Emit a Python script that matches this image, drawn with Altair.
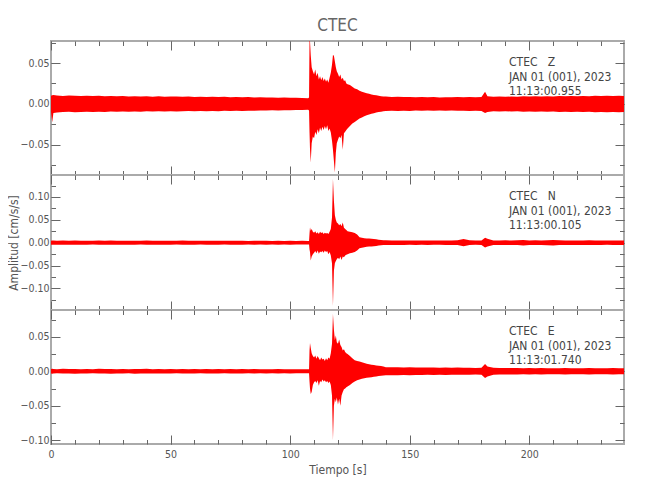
import altair as alt
import pandas as pd

FONT = "DejaVu Sans Condensed, DejaVu Sans, sans-serif"

# ---- sample times (s) ----
pre_t = [0.0, 0.5, 1.0, 2.5, 5.0, 7.5, 10.0, 12.5, 15.0, 17.5,
         20.0, 22.5, 25.0, 27.5, 30.0, 32.5, 35.0, 37.5, 40.0, 42.5,
         45.0, 47.5, 50.0, 52.5, 55.0, 57.5, 60.0, 62.5, 65.0, 67.5,
         70.0, 72.5, 75.0, 77.5, 80.0, 82.5, 85.0, 87.5, 90.0, 92.5,
         95.0, 97.5, 100.0, 102.5, 105.0, 107.5]
evt_t = [107.9, 108.1, 108.3, 108.6, 109.0, 109.5, 110.0, 110.5, 111.0, 111.5,
         112.0, 112.5, 113.0, 113.5, 114.0, 114.5, 115.0, 115.5, 116.0, 116.5,
         117.0, 117.5, 117.9, 118.3, 118.7, 119.1, 119.5, 120.0, 120.5, 121.0,
         121.5, 122.0, 122.5, 123.0, 123.5, 124.0, 125.0, 126.0, 127.0, 128.0,
         129.0, 130.0, 131.0, 132.0, 133.0, 134.0, 135.0, 136.0, 137.0, 138.0,
         139.0]
post_t = [140.0, 142.5, 145.0, 147.5, 150.0, 152.5, 155.0, 157.5, 160.0, 162.5,
          165.0, 167.5, 170.0, 172.5, 175.0, 177.5, 180.0, 181.5, 182.5, 185.0,
          187.5, 190.0, 192.5, 195.0, 197.5, 200.0, 202.5, 205.0, 207.5, 210.0,
          212.5, 215.0, 217.5, 220.0, 222.5, 225.0, 227.5, 230.0, 232.5, 235.0,
          237.5, 239.6]

# ---- Z component envelope (cm/s/s) ----
z_pre_up = [.0100, .0105, .0110, .0102, .0098, .0104, .0100, .0096, .0101, .0097,
            .0099, .0094, .0098, .0093, .0097, .0092, .0095, .0090, .0094, .0089,
            .0093, .0088, .0092, .0090, .0087, .0091, .0086, .0089, .0085, .0088,
            .0084, .0087, .0083, .0086, .0082, .0084, .0080, .0082, .0078, .0080,
            .0076, .0078, .0074, .0076, .0072, .0070]
z_pre_lo = [-.0100, -.0225, -.0110, -.0104, -.0100, -.0097, -.0103, -.0098, -.0095, -.0100,
            -.0096, -.0099, -.0094, -.0097, -.0093, -.0096, -.0092, -.0095, -.0091, -.0094,
            -.0090, -.0093, -.0089, -.0092, -.0090, -.0088, -.0091, -.0087, -.0090, -.0086,
            -.0089, -.0085, -.0087, -.0084, -.0086, -.0083, -.0084, -.0081, -.0082, -.0079,
            -.0080, -.0077, -.0078, -.0075, -.0074, -.0072]
z_evt_up = [.0080, .0770, .0770, .0600, .0450, .0400, .0360, .0420, .0340, .0380,
            .0300, .0340, .0290, .0330, .0280, .0310, .0270, .0300, .0260, .0320,
            .0380, .0480, .0600, .0590, .0520, .0450, .0400, .0370, .0330, .0360,
            .0300, .0320, .0280, .0290, .0250, .0240, .0230, .0210, .0190, .0180,
            .0160, .0150, .0140, .0130, .0125, .0115, .0110, .0105, .0100, .0095,
            .0092]
z_evt_lo = [-.0080, -.0350, -.0550, -.0720, -.0480, -.0400, -.0420, -.0340, -.0380, -.0310,
            -.0360, -.0290, -.0330, -.0280, -.0320, -.0270, -.0310, -.0260, -.0330, -.0300,
            -.0350, -.0450, -.0560, -.0700, -.0840, -.0600, -.0480, -.0440, -.0400, -.0420,
            -.0380, -.0560, -.0360, -.0340, -.0320, -.0300, -.0270, -.0240, -.0220, -.0200,
            -.0180, -.0165, -.0150, -.0140, -.0130, -.0120, -.0115, -.0105, -.0100, -.0095,
            -.0090]
z_post_up = [.0090, .0086, .0088, .0084, .0086, .0082, .0085, .0081, .0084, .0080,
             .0083, .0081, .0084, .0082, .0085, .0083, .0086, .0150, .0095, .0088,
             .0091, .0087, .0092, .0089, .0093, .0090, .0094, .0091, .0095, .0092,
             .0096, .0093, .0097, .0094, .0098, .0095, .0099, .0096, .0100, .0097,
             .0100, .0098]
z_post_lo = [-.0088, -.0085, -.0087, -.0083, -.0086, -.0082, -.0084, -.0081, -.0083, -.0080,
             -.0084, -.0082, -.0085, -.0083, -.0086, -.0084, -.0087, -.0110, -.0100, -.0090,
             -.0093, -.0089, -.0094, -.0091, -.0095, -.0092, -.0096, -.0093, -.0097, -.0094,
             -.0098, -.0095, -.0099, -.0096, -.0100, -.0097, -.0101, -.0098, -.0102, -.0099,
             -.0102, -.0100]

# ---- N component envelope ----
n_pre_up = [.0045, .0048, .0046, .0042, .0047, .0043, .0046, .0041, .0045, .0042,
            .0046, .0043, .0047, .0042, .0045, .0041, .0044, .0042, .0046, .0043,
            .0045, .0041, .0044, .0042, .0046, .0043, .0045, .0042, .0044, .0041,
            .0045, .0042, .0044, .0041, .0043, .0040, .0044, .0041, .0043, .0040,
            .0042, .0040, .0043, .0039, .0041, .0040]
n_pre_lo = [-.0044, -.0046, -.0045, -.0043, -.0046, -.0042, -.0045, -.0043, -.0046, -.0041,
            -.0045, -.0042, -.0046, -.0043, -.0044, -.0042, -.0045, -.0041, -.0044, -.0042,
            -.0046, -.0042, -.0045, -.0041, -.0044, -.0042, -.0045, -.0041, -.0043, -.0042,
            -.0044, -.0041, -.0043, -.0042, -.0044, -.0040, -.0043, -.0041, -.0042, -.0040,
            -.0043, -.0039, -.0042, -.0040, -.0041, -.0040]
n_evt_up = [.0040, .0200, .0340, .0260, .0300, .0240, .0220, .0250, .0200, .0230,
            .0190, .0240, .0210, .0230, .0190, .0220, .0200, .0210, .0190, .0240,
            .0300, .0550, .1390, .0920, .0600, .0500, .0440, .0420, .0380, .0410,
            .0360, .0440, .0330, .0300, .0280, .0250, .0240, .0230, .0210, .0180,
            .0120, .0110, .0100, .0095, .0090, .0085, .0080, .0075, .0065, .0058,
            .0055]
n_evt_lo = [-.0040, -.0150, -.0200, -.0390, -.0300, -.0250, -.0220, -.0180, -.0230, -.0170,
            -.0240, -.0190, -.0210, -.0180, -.0220, -.0170, -.0200, -.0180, -.0250, -.0200,
            -.0280, -.0450, -.1380, -.0610, -.0450, -.0400, -.0360, -.0330, -.0360, -.0300,
            -.0380, -.0300, -.0320, -.0280, -.0260, -.0250, -.0230, -.0220, -.0200, -.0170,
            -.0120, -.0110, -.0100, -.0090, -.0085, -.0080, -.0075, -.0070, -.0062, -.0056,
            -.0052]
n_post_up = [.0052, .0050, .0048, .0050, .0047, .0049, .0046, .0048, .0046, .0047,
             .0050, .0048, .0055, .0080, .0052, .0047, .0050, .0110, .0085, .0050,
             .0048, .0052, .0049, .0053, .0062, .0050, .0052, .0049, .0055, .0062,
             .0052, .0050, .0048, .0051, .0049, .0052, .0048, .0050, .0047, .0049,
             .0048, .0048]
n_post_lo = [-.0050, -.0048, -.0047, -.0049, -.0046, -.0048, -.0045, -.0047, -.0045, -.0046,
             -.0049, -.0047, -.0052, -.0075, -.0050, -.0046, -.0049, -.0105, -.0080, -.0049,
             -.0047, -.0051, -.0048, -.0052, -.0060, -.0049, -.0051, -.0048, -.0053, -.0060,
             -.0050, -.0049, -.0047, -.0050, -.0048, -.0051, -.0047, -.0049, -.0046, -.0048,
             -.0047, -.0047]

# ---- E component envelope ----
e_pre_up = [.0034, .0036, .0033, .0031, .0035, .0032, .0034, .0030, .0033, .0031,
            .0035, .0032, .0034, .0030, .0033, .0031, .0034, .0032, .0035, .0031,
            .0033, .0030, .0034, .0031, .0033, .0030, .0032, .0031, .0034, .0030,
            .0033, .0031, .0032, .0030, .0033, .0031, .0032, .0030, .0031, .0030,
            .0032, .0029, .0031, .0030, .0031, .0030]
e_pre_lo = [-.0033, -.0035, -.0034, -.0030, -.0034, -.0031, -.0035, -.0031, -.0034, -.0030,
            -.0034, -.0031, -.0035, -.0031, -.0032, -.0030, -.0035, -.0031, -.0034, -.0032,
            -.0034, -.0031, -.0033, -.0030, -.0034, -.0031, -.0033, -.0030, -.0033, -.0031,
            -.0032, -.0030, -.0033, -.0031, -.0032, -.0029, -.0032, -.0030, -.0031, -.0029,
            -.0031, -.0030, -.0032, -.0029, -.0030, -.0029]
e_evt_up = [.0030, .0300, .0410, .0340, .0260, .0220, .0200, .0230, .0180, .0220,
            .0190, .0160, .0200, .0170, .0180, .0150, .0190, .0160, .0200, .0180,
            .0260, .0400, .0830, .0600, .0450, .0520, .0420, .0400, .0460, .0380,
            .0350, .0300, .0320, .0280, .0260, .0250, .0220, .0190, .0160, .0150,
            .0140, .0130, .0120, .0110, .0100, .0095, .0090, .0085, .0080, .0075,
            .0070]
e_evt_lo = [-.0030, -.0150, -.0250, -.0330, -.0300, -.0200, -.0160, -.0140, -.0170, -.0130,
            -.0210, -.0140, -.0160, -.0120, -.0150, -.0130, -.0160, -.0140, -.0170, -.0150,
            -.0200, -.0350, -.1000, -.0500, -.0400, -.0450, -.0380, -.0480, -.0400, -.0500,
            -.0350, -.0300, -.0260, -.0250, -.0230, -.0220, -.0200, -.0170, -.0150, -.0130,
            -.0120, -.0110, -.0100, -.0095, -.0090, -.0085, -.0080, -.0075, -.0070, -.0065,
            -.0060]
e_post_up = [.0060, .0057, .0059, .0055, .0057, .0054, .0056, .0053, .0055, .0052,
             .0054, .0051, .0053, .0050, .0052, .0049, .0051, .0107, .0070, .0050,
             .0047, .0049, .0046, .0048, .0045, .0047, .0044, .0046, .0043, .0045,
             .0044, .0046, .0043, .0045, .0044, .0046, .0043, .0045, .0044, .0046,
             .0045, .0045]
e_post_lo = [-.0058, -.0056, -.0058, -.0054, -.0056, -.0053, -.0055, -.0052, -.0054, -.0051,
             -.0053, -.0050, -.0052, -.0049, -.0051, -.0048, -.0050, -.0096, -.0075, -.0049,
             -.0046, -.0048, -.0045, -.0047, -.0044, -.0046, -.0043, -.0045, -.0042, -.0044,
             -.0043, -.0045, -.0042, -.0044, -.0043, -.0045, -.0042, -.0044, -.0043, -.0045,
             -.0044, -.0044]

# ---- axes / labels ----
x_domain = [0, 239.6]
x_major = [0, 50, 100, 150, 200]
x_minor = [0, 10, 20, 30, 40, 50, 60, 70, 80, 90, 100, 110, 120, 130, 140, 150,
           160, 170, 180, 190, 200, 210, 220, 230]

z_domain = [-0.087, 0.077]
z_major = [-0.05, 0.0, 0.05]
z_minor = [-0.075, -0.05, -0.025, 0.0, 0.025, 0.05, 0.075]
n_domain = [-0.147, 0.148]
n_major = [-0.10, -0.05, 0.0, 0.05, 0.10]
n_minor = [-0.125, -0.10, -0.075, -0.05, -0.025, 0.0, 0.025, 0.05, 0.075, 0.10, 0.125]
e_domain = [-0.1054, 0.0888]
e_major = [-0.10, -0.05, 0.0, 0.05]
e_minor = [-0.10, -0.075, -0.05, -0.025, 0.0, 0.025, 0.05, 0.075]

labels_z = ["CTEC\u00a0\u00a0\u00a0Z", "JAN 01 (001), 2023", "11:13:00.955"]
labels_n = ["CTEC\u00a0\u00a0\u00a0N", "JAN 01 (001), 2023", "11:13:00.105"]
labels_e = ["CTEC\u00a0\u00a0\u00a0E", "JAN 01 (001), 2023", "11:13:01.740"]

TICK = "#666666"
RED = "#ff0000"
TXT = "#444444"

t_all = pre_t + evt_t + post_t


def panel(up, lo, ydom, ymajor, yminor, labels, height, ytitle=None, xlabels=False, title=None):
    assert len(up) == len(t_all) and len(lo) == len(t_all)
    df = pd.DataFrame({"t": t_all, "up": up, "lo": lo})
    xs = alt.Scale(domain=x_domain, nice=False, zero=False)
    ys = alt.Scale(domain=ydom, nice=False, zero=False)

    yax_kw = dict(values=ymajor, format=".2f", ticks=False, domain=False, grid=False,
                  labelPadding=2, labelFlush=False)
    if ytitle:
        yax_kw.update(title=ytitle, titlePadding=0)
    else:
        yax_kw.update(title=None)
    if xlabels:
        xax = alt.Axis(values=x_major, format="d", ticks=False, domain=False, grid=False,
                       labelPadding=5, labelFlush=False, title="Tiempo [s]", titlePadding=5)
    else:
        xax = None

    area = alt.Chart(df).mark_area(color=RED, clip=True, interpolate="linear").encode(
        x=alt.X("t:Q", scale=xs, axis=xax),
        y=alt.Y("up:Q", scale=ys, axis=alt.Axis(**yax_kw)),
        y2="lo:Q",
    )

    dummy = pd.DataFrame({"t": [0.0], "up": [0.0]})
    layers = [area]

    def tick_ax(orient, values, size):
        return alt.Axis(orient=orient, values=values, tickSize=size, offset=-size,
                        labels=False, domain=False, grid=False, title=None,
                        tickColor=TICK, tickWidth=1)

    for orient in ["bottom", "top"]:
        for vals, size in [(x_major, 9), (x_minor, 4.5)]:
            layers.append(alt.Chart(dummy).mark_point(opacity=0).encode(
                x=alt.X("t:Q", scale=xs, axis=tick_ax(orient, vals, size)),
                y=alt.Y("up:Q", scale=ys, axis=None)))
    for orient in ["left", "right"]:
        for vals, size in [(ymajor, 9), (yminor, 4.5)]:
            layers.append(alt.Chart(dummy).mark_point(opacity=0).encode(
                x=alt.X("t:Q", scale=xs, axis=None),
                y=alt.Y("up:Q", scale=ys, axis=tick_ax(orient, vals, size))))

    lab_df = pd.DataFrame({"label": ["\n".join(labels)]})
    layers.append(alt.Chart(lab_df).mark_text(
        align="left", baseline="alphabetic", font=FONT, fontSize=12, color=TXT,
        lineBreak="\n", lineHeight=14.5).encode(
        text="label:N", x=alt.value(458), y=alt.value(25)))

    props = dict(width=573, height=height)
    if title:
        props["title"] = alt.TitleParams(title, fontSize=17, font=FONT, color="#666666",
                                         fontWeight="normal", anchor="middle",
                                         frame="group", offset=6)
    return alt.layer(*layers).resolve_axis(x="independent", y="independent").properties(**props)


p1 = panel(z_pre_up + z_evt_up + z_post_up, z_pre_lo + z_evt_lo + z_post_lo,
           z_domain, z_major, z_minor, labels_z, 134, title="CTEC")
p2 = panel(n_pre_up + n_evt_up + n_post_up, n_pre_lo + n_evt_lo + n_post_lo,
           n_domain, n_major, n_minor, labels_n, 135, ytitle="Amplitud [cm/s/s]")
p3 = panel(e_pre_up + e_evt_up + e_post_up, e_pre_lo + e_evt_lo + e_post_lo,
           e_domain, e_major, e_minor, labels_e, 134, xlabels=True)

chart = alt.vconcat(p1, p2, p3, spacing=0, bounds="flush").properties(
    padding={"left": -2, "top": 7, "right": 10, "bottom": 5}
).configure_axis(
    labelFont=FONT, titleFont=FONT, labelFontSize=10.5, titleFontSize=12,
    labelColor="#555555", titleColor="#555555", titleFontWeight="normal",
).configure_view(stroke="#aaaaaa", strokeWidth=2)

chart.save("out.html", embed_options={"renderer": "svg", "actions": False})
